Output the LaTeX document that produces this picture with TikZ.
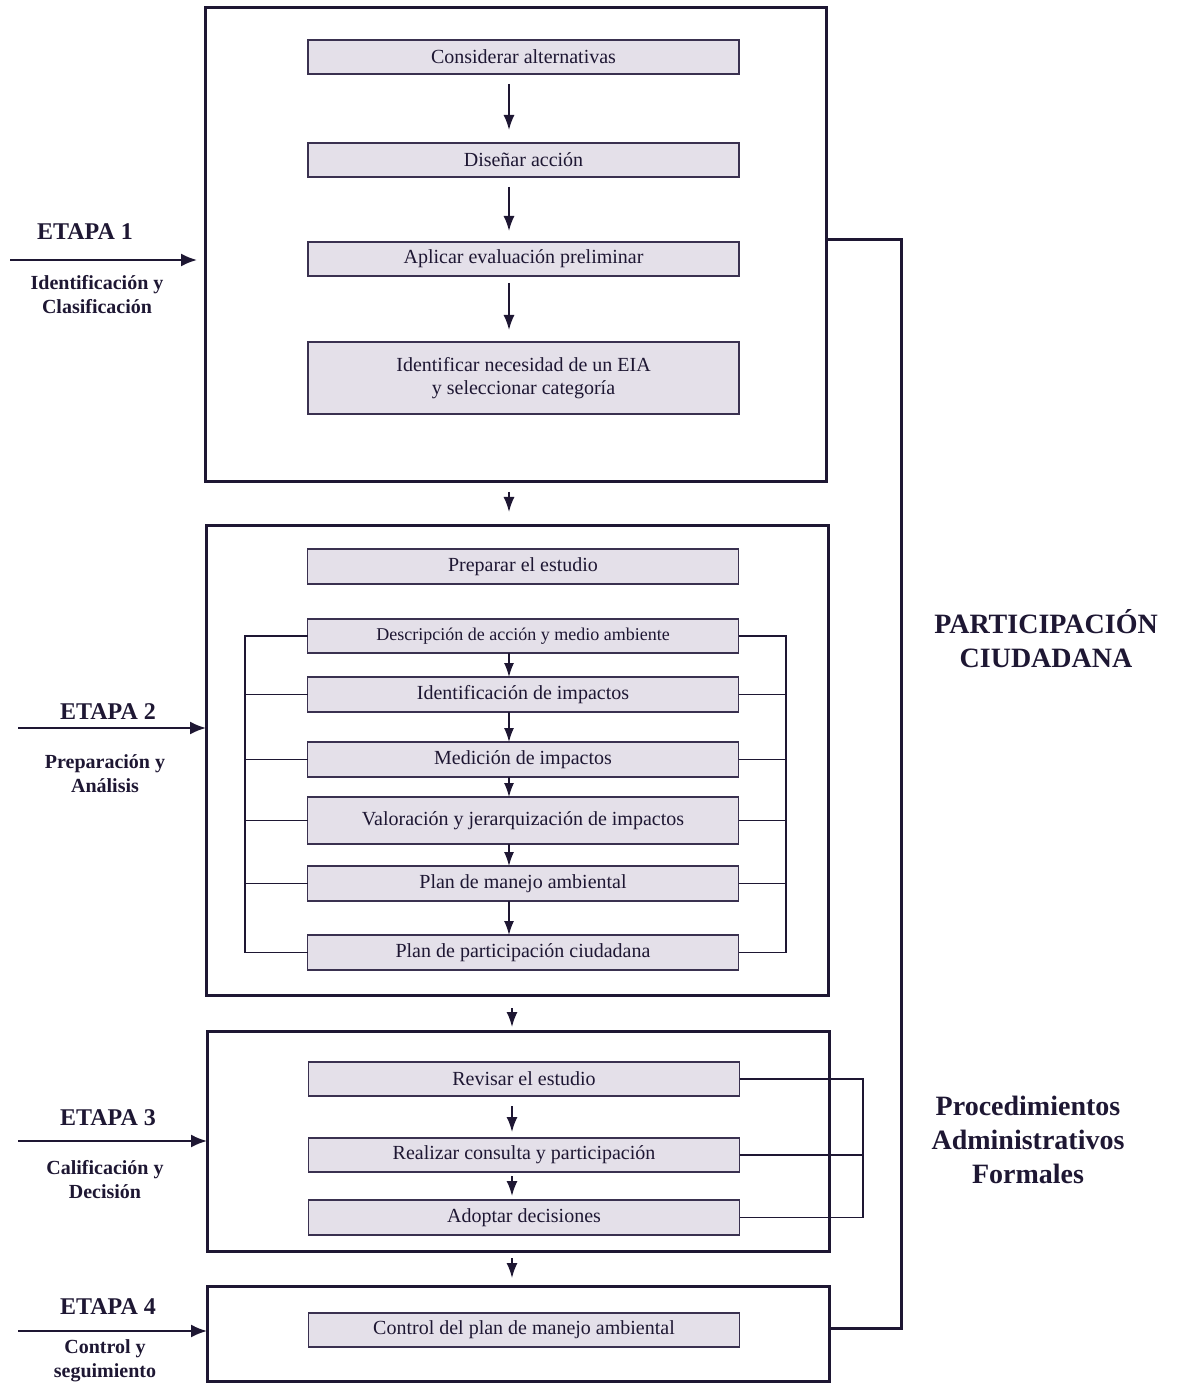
\documentclass[tikz,border=0pt]{standalone}
\usepackage{fontspec}
\setmainfont{Liberation Serif}
\usetikzlibrary{arrows.meta,calc}
\definecolor{ink}{HTML}{1E1733}
\definecolor{boxfill}{HTML}{E4E0E9}
\definecolor{boxline}{HTML}{3A3150}

\begin{document}
\begin{tikzpicture}[x=0.5pt,y=-0.5pt,
  frame/.style={draw=ink, line width=1.5pt, inner sep=0pt, outer sep=0pt},
  stepbox/.style={draw=boxline, fill=boxfill, line width=0.9pt, minimum width=215.5pt,
    minimum height=17pt, inner sep=0pt, outer sep=0pt, text=ink,
    font=\fontsize{10}{11.5}\selectfont, align=center},
  flow/.style={draw=ink, line width=0.8pt, -{Latex[length=7.5pt,width=5.5pt]}},
  entry/.style={draw=ink, line width=1pt, -{Latex[length=8pt,width=6.5pt]}},
  link/.style={draw=ink, line width=0.7pt},
  feed/.style={draw=ink, line width=1.5pt},
  stage/.style={text=ink, font=\bfseries\fontsize{12}{14}\selectfont},
  stagesub/.style={text=ink, font=\bfseries\fontsize{10}{12}\selectfont, align=center},
  side/.style={text=ink, font=\bfseries\fontsize{14}{17}\selectfont, align=center}
]
\useasboundingbox (0,0) rectangle (1178,1384);

% ---- stage frames
\node[frame, minimum width=310.5pt, minimum height=237pt] (s1) at (515.5,245) {};
\node[frame, minimum width=311pt, minimum height=235pt] (s2) at (517,760) {};
\node[frame, minimum width=311pt, minimum height=110pt] (s3) at (518,1141) {};
\node[frame, minimum width=311pt, minimum height=47.5pt] (s4) at (518,1333.5) {};

% ---- stage 1: identification
\node[stepbox] (a1) at (523.5,57) {Considerar alternativas};
\node[stepbox] (a2) at (523.5,160) {Diseñar acción};
\node[stepbox] (a3) at (523.5,259) {Aplicar evaluación preliminar};
\node[stepbox, minimum height=36pt] (a4) at (523.5,378) {Identificar necesidad de un EIA\\y seleccionar categoría};

% ---- stage 2: preparation
\node[stepbox, minimum height=17.5pt] (b0) at (523,566.5) {Preparar el estudio};
\node[stepbox, font=\fontsize{9}{11}\selectfont] (b1) at (523,636) {Descripción de acción y medio ambiente};
\node[stepbox, minimum height=17.5pt] (b2) at (523,694.5) {Identificación de impactos};
\node[stepbox, minimum height=17.5pt] (b3) at (523,759.5) {Medición de impactos};
\node[stepbox, minimum height=23.5pt] (b4) at (523,820.5) {Valoración y jerarquización de impactos};
\node[stepbox, minimum height=17.5pt] (b5) at (523,883.5) {Plan de manejo ambiental};
\node[stepbox, minimum height=17.5pt] (b6) at (523,952.5) {Plan de participación ciudadana};

% ---- stage 3: decision
\node[stepbox] (c1) at (524,1079) {Revisar el estudio};
\node[stepbox] (c2) at (524,1155) {Realizar consulta y participación};
\node[stepbox, minimum height=17.5pt] (c3) at (524,1217.5) {Adoptar decisiones};

% ---- stage 4: follow-up
\node[stepbox] (d1) at (524,1330) {Control del plan de manejo ambiental};

% ---- columns used by the connectors
\coordinate (X1) at (509,0);
\coordinate (X3) at (512,0);
\coordinate (L2) at (245,0);
\coordinate (R2) at (786,0);
\coordinate (R3) at (863,0);
\coordinate (P) at (901,0);

% ---- arrows inside stage 1
\draw[flow, shorten <=5pt, shorten >=6.5pt] (a1.south -| X1) -- (a2.north -| X1);
\draw[flow, shorten <=5pt, shorten >=5.5pt] (a2.south -| X1) -- (a3.north -| X1);
\draw[flow, shorten <=3.5pt, shorten >=6pt] (a3.south -| X1) -- (a4.north -| X1);

% ---- arrows inside stage 2
\foreach \u/\v in {b1/b2, b2/b3, b3/b4, b4/b5, b5/b6}
  \draw[flow, line width=0.7pt, -{Latex[length=7pt,width=5pt]}] (\u.south -| X1) -- (\v.north -| X1);

% ---- brackets around the stage 2 steps
\draw[link] (b1.west) -- (b1.west -| L2) -- (b6.west -| L2) -- (b6.west);
\draw[link] (b1.east) -- (b1.east -| R2) -- (b6.east -| R2) -- (b6.east);
\foreach \n in {b2,b3,b4,b5} {
  \draw[link] (\n.west) -- (\n.west -| L2);
  \draw[link] (\n.east) -- (\n.east -| R2);
}

% ---- arrows inside stage 3
\draw[flow, shorten <=5pt, shorten >=3pt] (c1.south -| X3) -- (c2.north -| X3);
\draw[flow, shorten <=2pt, shorten >=2pt] (c2.south -| X3) -- (c3.north -| X3);

% ---- bracket of stage 3
\draw[link] (c1.east) -- (c1.east -| R3) -- (c3.east -| R3) -- (c3.east);
\draw[link] (c2.east) -- (c2.east -| R3);

% ---- arrows between stages
\draw[flow, shorten <=5pt, shorten >=6.5pt] (s1.south -| X1) -- (s2.north -| X1);
\draw[flow, shorten <=6.5pt, shorten >=2pt] (s2.south -| X3) -- (s3.north -| X3);
\draw[flow, shorten <=3.5pt, shorten >=4pt] (s3.south -| X3) -- (s4.north -| X3);

% ---- citizen participation loop
\coordinate (p1) at (829,240);
\coordinate (p4) at (829,1328);
\draw[feed] (p1 -| s1.east) -- (p1 -| P) -- (p4 -| P) -- (p4 -| s4.east);

% ---- stage labels and entry arrows
\coordinate (e1) at (10,260);
\coordinate (e2) at (18,728);
\coordinate (e3) at (18,1141);
\coordinate (e4) at (18,1331);
\draw[entry, shorten >=4pt] (e1) -- (e1 -| s1.west);
\draw[entry] (e2) -- (e2 -| s2.west);
\draw[entry] (e3) -- (e3 -| s3.west);
\draw[entry] (e4) -- (e4 -| s4.west);

\node[stage] (t1) at (85,232) {ETAPA 1};
\node[stagesub] (u1) at (97,295) {Identificación y\\Clasificación};
\node[stage] (t2) at (108,712) {ETAPA 2};
\node[stagesub] (u2) at (105,774) {Preparación y\\Análisis};
\node[stage] (t3) at (108,1118) {ETAPA 3};
\node[stagesub] (u3) at (105,1180) {Calificación y\\Decisión};
\node[stage] (t4) at (108,1307) {ETAPA 4};
\node[stagesub] (u4) at (105,1361) {Control y\\seguimiento};

% ---- side titles
\node[side] (pc) at (1046,639) {PARTICIPACIÓN\\CIUDADANA};
\node[side] (paf) at (1028,1140) {Procedimientos\\Administrativos\\Formales};

\end{tikzpicture}
\end{document}
